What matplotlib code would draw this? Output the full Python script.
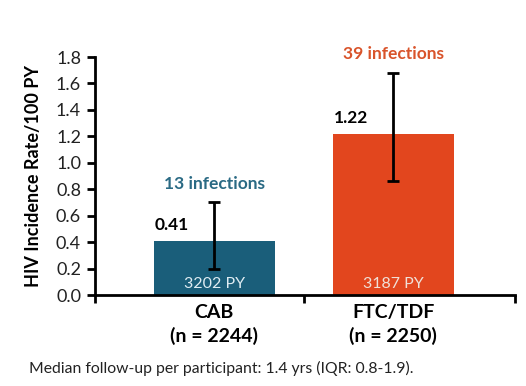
import matplotlib
matplotlib.use("Agg")
import matplotlib.pyplot as plt

categories = ["CAB\n(n = 2244)", "FTC/TDF\n(n = 2250)"]
rates = [0.41, 1.22]
ci_low = [0.20, 0.86]
ci_high = [0.70, 1.68]
person_years = ["3202 PY", "3187 PY"]
infections = ["13 infections", "39 infections"]
bar_colors = ["#1a5e7a", "#e2461e"]
label_colors = ["#2a6a84", "#d9542b"]
yticks = [0.0, 0.2, 0.4, 0.6, 0.8, 1.0, 1.2, 1.4, 1.6, 1.8]
footnote = "Median follow-up per participant: 1.4 yrs (IQR: 0.8-1.9)."

plt.rcParams['font.family'] = ['Lato', 'DejaVu Sans']

fig = plt.figure(figsize=(5.26, 3.86), dpi=100)
ax = fig.add_axes([95/526, 1-295/386, 420/526, 238/386])

x = [0, 1]
ax.bar(x, rates, width=0.676, color=bar_colors, zorder=2)
yerr = [[r - l for r, l in zip(rates, ci_low)], [h - r for r, h in zip(rates, ci_high)]]
ax.errorbar(x, rates, yerr=yerr, fmt='none', ecolor='black', elinewidth=2,
            capsize=4, capthick=2, zorder=3)

xmin, xmax = -0.665, 1.68
ax.set_xlim(xmin, xmax)
ax.set_ylim(0, 1.8)
ax.set_yticks(yticks)
ax.set_yticklabels([f"{v:.1f}" for v in yticks], fontsize=13, color='#222222')
ax.set_xticks([xmin, 0.5, xmax])
ax.set_xticklabels([])
ax.tick_params(axis='both', direction='out', length=6, width=2, color='black')
ax.tick_params(axis='y', pad=4)
for s in ['top', 'right']:
    ax.spines[s].set_visible(False)
for s in ['left', 'bottom']:
    ax.spines[s].set_linewidth(2)
ax.set_ylabel("HIV Incidence Rate/100 PY", fontsize=13, fontweight='bold', labelpad=10)

for i in range(2):
    ax.text(x[i] - 0.235, rates[i] + 0.06, f"{rates[i]:.2f}", ha='center', va='bottom',
            fontsize=12.5, fontweight='bold', color='black')
    ax.text(x[i], ci_high[i] + 0.08, infections[i], ha='center', va='bottom',
            fontsize=12.5, fontweight='bold', color=label_colors[i])
    ax.text(x[i], 0.03, person_years[i], ha='center', va='bottom',
            fontsize=11.5, color='#f0e0d8' if i else '#e0edf3')
    ax.text(x[i], -0.07, categories[i], ha='center', va='top', fontsize=14,
            fontweight='bold', linespacing=1.35, transform=ax.transData)

fig.text(29/526, 1-368/386, footnote, ha='left', va='center', fontsize=11.3, color='#222222')

fig.savefig("out.png", dpi=100)
